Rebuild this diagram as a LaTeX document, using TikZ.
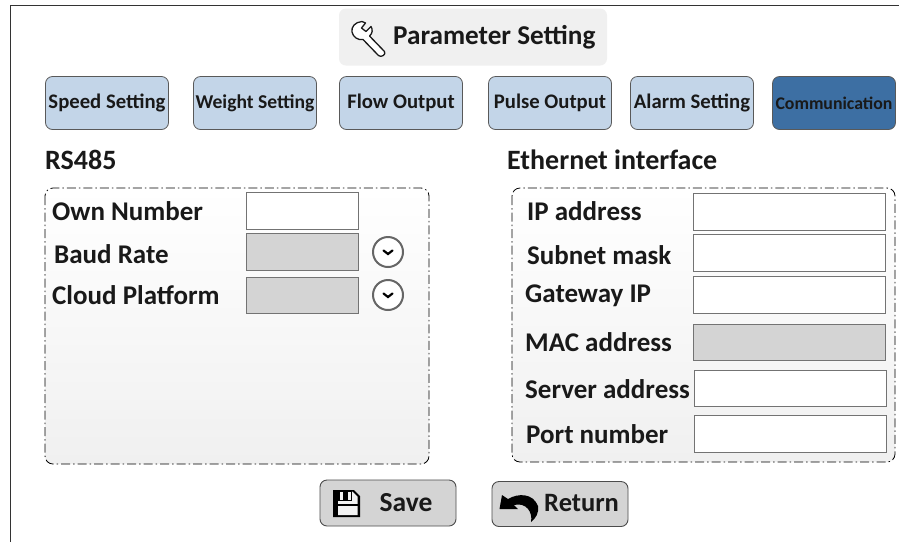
\documentclass[tikz,border=0pt]{standalone}
\usepackage{fontspec}
\setmainfont{Carlito}[BoldFont=Carlito Bold]
\begin{document}
\begin{tikzpicture}[x=1pt,y=-1pt,
  lab/.style={font=\fontsize{27}{30}\bfseries\selectfont,anchor=west,inner sep=0pt,text=black!90},
  tab/.style={draw=black!65,line width=0.8pt,rounded corners=7pt,fill=tabblue,inner sep=0pt,minimum width=123pt,minimum height=53pt,font=\fontsize{20.7}{23}\bfseries\selectfont,text=black!90},
  panel/.style={draw=black,line width=0.8pt,dash pattern=on 9pt off 3pt on 1.5pt off 3pt,rounded corners=8pt,top color=white,bottom color=panelgrey},
  field/.style={draw=black!55,line width=1pt,fill=white,inner sep=0pt},
  greyfield/.style={draw=black!55,line width=1pt,fill=fieldgrey,inner sep=0pt},
  btn/.style={draw=black!70,line width=0.9pt,rounded corners=7pt,fill=fieldgrey,inner sep=0pt}]
\definecolor{tabblue}{HTML}{C3D5E8}
\definecolor{tabdark}{HTML}{3D6FA3}
\definecolor{panelgrey}{HTML}{F0F0F0}
\definecolor{fieldgrey}{HTML}{D4D4D4}
\useasboundingbox (0,0) rectangle (899,542);
\fill[white] (0,0) rectangle (899,542);
\draw[black!80,line width=0.9pt] (10,542) -- (10,5) -- (899,5);
% title
\node[fill=black!6,rounded corners=7pt,minimum width=268pt,minimum height=57pt,inner sep=0pt] (title) at (473,37) {};
\node[font=\fontsize{27.2}{30}\bfseries\selectfont,anchor=west,inner sep=0pt,text=black!90] (titletext) at (393,37) {Parameter Setting};
\draw[black!90,line width=1.3pt,line join=round,fill=white] (362,21.5)
  .. controls (355,22) and (351,27) .. (352,32)
  .. controls (353,37) and (358,40.5) .. (363,39.5)
  -- (378.5,55.5)
  .. controls (381,58) and (386.5,54.5) .. (384.5,51.5)
  -- (369.5,36)
  .. controls (372.5,33.5) and (373,29.5) .. (371,26.5)
  -- (366,31.5) -- (361.5,28) -- (365.5,23) -- cycle;
% tabs
\node[tab] (t1) at (107,103) {Speed Setting};
\node[tab,font=\fontsize{19.6}{22}\bfseries\selectfont] (t2) at (255,103) {Weight Setting};
\node[tab] (t3) at (401,103) {Flow Output};
\node[tab] (t4) at (550,103) {Pulse Output};
\node[tab] (t5) at (692,103) {Alarm Setting};
\node[tab,fill=tabdark,font=\fontsize{17.8}{20}\bfseries\selectfont,text=black!90] (t6) at (834,103) {Communication};
% headings
\node[lab,font=\fontsize{28}{31}\bfseries\selectfont] (h1) at (45,160) {RS485};
\node[lab,font=\fontsize{28}{31}\bfseries\selectfont] (h2) at (507,160) {Ethernet interface};
% panels
\path[panel] (45,188) rectangle (429,464);
\path[panel] (512,188) rectangle (895,462);
% left rows
\node[lab] (l1) at (52,211) {Own Number};
\node[lab] (l2) at (54,254) {Baud Rate};
\node[lab] (l3) at (52,295) {Cloud Platform};
\node[field,minimum width=112pt,minimum height=37pt] (f1) at (302,211) {};
\node[greyfield,minimum width=112pt,minimum height=37pt] (f2) at (302,252) {};
\node[greyfield,minimum width=112pt,minimum height=36pt] (f3) at (302,295) {};
\foreach \n/\y in {a/252,b/295}{
  \node[circle,draw=black!60,line width=2pt,fill=white,minimum size=30pt,inner sep=0pt] (c\n) at (388,\y) {};
  \draw[black,line width=2.2pt,line cap=round] (383.5,\y-1.5) -- (388,\y+2) -- (392.5,\y-1.5);
}
% right rows
\node[lab] (r1) at (527,211) {IP address};
\node[lab] (r2) at (527,255) {Subnet mask};
\node[lab] (r3) at (525,296) {Gateway IP};
\node[lab] (r4) at (525,342) {MAC address};
\node[lab] (r5) at (525,389) {Server address};
\node[lab] (r6) at (526,434) {Port number};
\node[field,minimum width=192pt,minimum height=37pt] (g1) at (789,212) {};
\node[field,minimum width=192pt,minimum height=37pt] (g2) at (789,253) {};
\node[field,minimum width=192pt,minimum height=37pt] (g3) at (789,295) {};
\node[greyfield,minimum width=192pt,minimum height=36pt] (g4) at (789,342) {};
\node[field,minimum width=192pt,minimum height=36pt] (g5) at (790,388) {};
\node[field,minimum width=192pt,minimum height=37pt] (g6) at (790,434) {};
% buttons
\node[btn,minimum width=136pt,minimum height=46pt] (save) at (388,503) {};
\node[font=\fontsize{27.5}{30}\bfseries\selectfont,inner sep=0pt,text=black!90] (savetext) at (406,503) {Save};
\node[btn,minimum width=136pt,minimum height=45pt] (ret) at (560,504) {};
\node[font=\fontsize{26.5}{29}\bfseries\selectfont,anchor=west,inner sep=0pt,text=black!90] (rettext) at (544,503) {Return};
% floppy icon
\fill[black] (333,490) -- (354,490) -- (360,496) -- (360,517) -- (333,517) -- cycle;
\fill[fieldgrey!30] (338,491.5) -- (352.5,491.5) -- (357.5,496.5) -- (357.5,515) -- (338,515) -- cycle;
\fill[black] (338,501) -- (352,501) -- (352,491) -- (338,491) -- cycle;
\fill[fieldgrey!30] (340,491.5) rectangle (343,499.5);
\fill[fieldgrey!30] (348,491.5) rectangle (351,499.5);
\fill[black] (336,503.5) rectangle (358,505.5);
\fill[black] (336,505) rectangle (338,516);
% return arrow
\fill[black] (499.5,509) -- (502,495) -- (508,499)
  .. controls (518,493) and (533,493) .. (538,506)
  .. controls (539,513) and (536,518) .. (531,522)
  .. controls (533,512) and (526,502) .. (514,505)
  -- (518,509) -- cycle;
\end{tikzpicture}
\end{document}
